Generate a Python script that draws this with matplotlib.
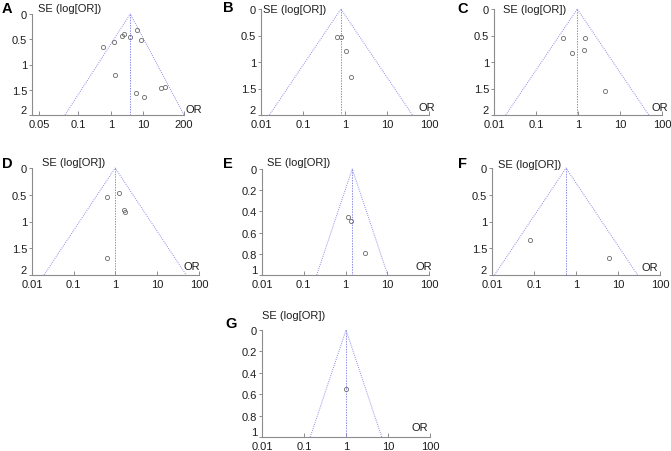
import numpy as np
import matplotlib.pyplot as plt
from matplotlib.ticker import NullLocator

plt.rcParams['font.family'] = ['Liberation Sans', 'DejaVu Sans']

# study odds ratios and standard errors
a_or = [0.59, 1.27, 2.15, 2.55, 3.9, 6.3, 8.7, 1.36, 5.9, 10.8, 36, 50]
a_se = [0.66, 0.55, 0.44, 0.40, 0.45, 0.32, 0.51, 1.21, 1.56, 1.65, 1.47, 1.44]
b_or = [0.66, 0.80, 1.04, 1.37]
b_se = [0.52, 0.53, 0.79, 1.29]
c_or = [0.43, 1.43, 0.73, 1.36, 4.3]
c_se = [0.55, 0.54, 0.83, 0.77, 1.55]
d_or = [0.64, 1.21, 1.60, 1.72, 0.64]
d_se = [0.54, 0.46, 0.79, 0.82, 1.69]
e_or = [1.13, 1.38, 2.97]
e_se = [0.45, 0.49, 0.79]
f_or = [0.079, 5.97]
f_se = [1.34, 1.68]
g_or = [1.0]
g_se = [0.556]

pooled_or = [4.0, 0.80, 0.96, 0.98, 1.45, 0.58, 1.0]
se_max = [2, 2, 2, 2, 1, 2, 1]
letters = ['A', 'B', 'C', 'D', 'E', 'F', 'G']

log_ticks = [0.01, 0.1, 1, 10, 100]
log_labels = ['0.01', '0.1', '1', '10', '100']
a_ticks = [0.05, 0.1, 1, 10, 200]
a_labels = ['0.05', '0.1', '1', '10', '200']
y_ticks_2 = [0, 0.5, 1, 1.5, 2]
y_labels_2 = ['0', '0.5', '1', '1.5', '2']
y_ticks_1 = [0, 0.2, 0.4, 0.6, 0.8, 1]
y_labels_1 = ['0', '0.2', '0.4', '0.6', '0.8', '1']

all_or = [a_or, b_or, c_or, d_or, e_or, f_or, g_or]
all_se = [a_se, b_se, c_se, d_se, e_se, f_se, g_se]

W, H = 671, 452
# axes box in pixels: x0, x1, ytop, ybottom
boxes = [(32, 184, 15, 116), (261, 429, 10, 116), (494, 662, 10, 116),
         (32, 199, 169, 276), (262, 429, 170, 276), (492, 660, 169, 276),
         (262, 430, 331, 438)]
letter_pos = [(2, 9), (223, 8), (457, 9), (2, 164), (223, 164), (458, 164), (225, 324)]
se_pos = [(38, 9), (263, 10), (503, 10), (42, 163), (267, 163), (498, 165), (262, 316)]
or_pos = [(202, 110), (435, 108), (668, 108), (200, 267), (432, 267), (658, 268), (428, 428)]

# panel A has an uneven OR axis: piecewise log scale through its tick marks
a_knot_log = np.log10(a_ticks)
a_knot_pix = np.array([39, 78, 111, 143, 184], dtype=float)
s0 = (a_knot_pix[1] - a_knot_pix[0]) / (a_knot_log[1] - a_knot_log[0])
s1 = (a_knot_pix[-1] - a_knot_pix[-2]) / (a_knot_log[-1] - a_knot_log[-2])
kl = np.concatenate([[a_knot_log[0] - 5], a_knot_log, [a_knot_log[-1] + 5]])
kp = np.concatenate([[a_knot_pix[0] - 5 * s0], a_knot_pix, [a_knot_pix[-1] + 5 * s1]])


def a_fwd(x):
    return np.interp(np.log10(np.clip(x, 1e-12, None)), kl, kp)


def a_inv(y):
    return 10 ** np.interp(y, kp, kl)


line_col = '#8c8ce6'
spine_col = '#8c8c8c'
text_col = '#1e1e1e'

fig = plt.figure(figsize=(W / 100, H / 100), dpi=100)

for i in range(7):
    x0, x1, yt, yb = boxes[i]
    ax = fig.add_axes([x0 / W, 1 - yb / H, (x1 - x0) / W, (yb - yt) / H])
    p = pooled_or[i]
    sm = se_max[i]
    lo = p * np.exp(-1.96 * sm)
    hi = p * np.exp(1.96 * sm)

    ax.plot([lo, p, hi], [sm, 0, sm], ls=(0, (1, 1.2)), color=line_col, lw=0.7, clip_on=False)
    ax.plot([p, p], [0, sm], ls=(0, (1.5, 1.2)), color=line_col, lw=0.7, clip_on=False)
    ax.plot(all_or[i], all_se[i], 'o', mfc='none', mec='#6a6a6a', ms=3.0, mew=0.6, clip_on=False)

    if i == 0:
        ax.set_xscale('function', functions=(a_fwd, a_inv))
        ax.set_xlim(a_inv(32), 200)
        ax.set_xticks(a_ticks)
        ax.set_xticklabels(a_labels)
    else:
        ax.set_xscale('log')
        ax.set_xlim(0.01, 100)
        ax.set_xticks(log_ticks)
        ax.set_xticklabels(log_labels)
    ax.xaxis.set_minor_locator(NullLocator())

    ax.set_ylim(sm, 0)
    if sm == 2:
        ax.set_yticks(y_ticks_2)
        ax.set_yticklabels(y_labels_2)
    else:
        ax.set_yticks(y_ticks_1)
        ax.set_yticklabels(y_labels_1)
    # lift the bottom SE label a touch so it clears the first OR label
    ax.get_yticklabels()[-1].set_verticalalignment('bottom')

    for s in ['top', 'right']:
        ax.spines[s].set_visible(False)
    for s in ['left', 'bottom']:
        ax.spines[s].set_color(spine_col)
        ax.spines[s].set_linewidth(0.8)
    ax.tick_params(axis='x', direction='in', length=3, width=0.7, color=spine_col,
                   labelsize=8, pad=3, labelcolor=text_col)
    ax.tick_params(axis='y', direction='out', length=2, width=0.7, color=spine_col,
                   labelsize=8, pad=1.5, labelcolor=text_col)
    ax.patch.set_alpha(0)

    lx, ly = letter_pos[i]
    fig.text(lx / W, 1 - ly / H, letters[i], fontsize=10.5, fontweight='bold',
             ha='left', va='center')
    sx, sy = se_pos[i]
    fig.text(sx / W, 1 - sy / H, 'SE (log[OR])', fontsize=8, ha='left', va='center',
             color=text_col)
    ox, oy = or_pos[i]
    fig.text(ox / W, 1 - oy / H, 'OR', fontsize=8, ha='right', va='center',
             color=text_col)

fig.savefig('out.png', dpi=100)
